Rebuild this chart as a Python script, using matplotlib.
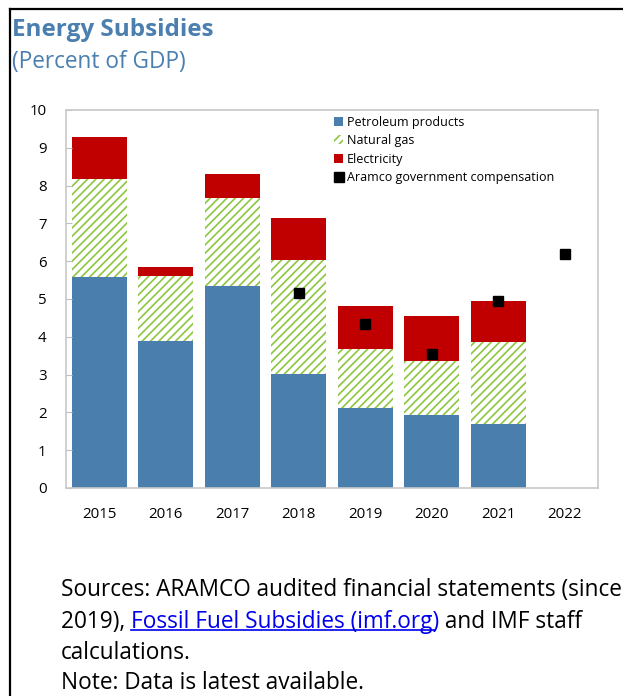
import numpy as np
import matplotlib
matplotlib.use("Agg")
import matplotlib.pyplot as plt
from matplotlib.lines import Line2D

#===============================================================================
# Data
#===============================================================================
years = ["2015", "2016", "2017", "2018", "2019", "2020", "2021", "2022"]
petroleum = [5.58, 3.89, 5.35, 3.02, 2.12, 1.92, 1.70, 0.0]
natural_gas = [2.60, 1.73, 2.33, 3.02, 1.55, 1.44, 2.17, 0.0]
electricity = [1.11, 0.23, 0.63, 1.09, 1.14, 1.19, 1.08, 0.0]
aramco = [np.nan, np.nan, np.nan, 5.15, 4.34, 3.54, 4.95, 6.19]

BLUE = "#4a7fad"
GREEN = "#8dc63f"
RED = "#c00000"
TITLE = "#4a7fb0"

plt.rcParams["font.family"] = ["Open Sans", "DejaVu Sans"]
plt.rcParams["hatch.linewidth"] = 1.2

#===============================================================================
# Plot
#===============================================================================
fig = plt.figure(figsize=(6.23, 6.96), dpi=100)
ax = fig.add_axes([0.106, 0.299, 0.854, 0.543])

x = np.arange(len(years))
w = 0.83
pet = np.array(petroleum)
gas = np.array(natural_gas)
ele = np.array(electricity)

ax.bar(x, pet, w, color=BLUE, linewidth=0, label="Petroleum products")
ax.bar(x, gas, w, bottom=pet, facecolor="white", edgecolor=GREEN,
       hatch="////", linewidth=0, label="Natural gas")
ax.bar(x, ele, w, bottom=pet + gas, color=RED, linewidth=0, label="Electricity")
ax.plot(x, aramco, linestyle="none", marker="s", markersize=7, color="black",
        label="Aramco government compensation")

ax.set_xlim(-0.5, len(years) - 0.5)
ax.set_ylim(0, 10)
ax.set_yticks(range(0, 11))
ax.set_xticks(x)
ax.set_xticklabels(years)
ax.tick_params(axis="y", direction="in", length=4, color="#bfbfbf",
               labelsize=10.8, pad=14)
ax.tick_params(axis="x", length=0, labelsize=10.8, pad=14)
for s in ax.spines.values():
    s.set_color("#c8c8c8")
    s.set_linewidth(1.2)

handles, labels = ax.get_legend_handles_labels()
order = [1, 2, 3, 0]
leg = ax.legend([handles[i] for i in order], [labels[i] for i in order],
                loc="upper left", bbox_to_anchor=(0.49, 1.005), frameon=False,
                fontsize=9, handlelength=0.7, handletextpad=0.3,
                labelspacing=0.45, borderaxespad=0.2)

# titles
fig.text(12 / 623, 1 - 30 / 696, "Energy Subsidies", color=TITLE,
         fontsize=17.5, fontweight="bold", va="center", ha="left")
fig.text(12 / 623, 1 - 62 / 696, "(Percent of GDP)", color=TITLE,
         fontsize=16.3, va="center", ha="left")

# frame lines at top and left
fig.add_artist(Line2D([10 / 623, 1.0], [1 - 9 / 696] * 2, color="black",
                      linewidth=1.6, transform=fig.transFigure))
fig.add_artist(Line2D([10 / 623] * 2, [0.0, 1 - 9 / 696], color="black",
                      linewidth=1.6, transform=fig.transFigure))

# sources and note
fs = 16.3
x0 = 61 / 623
fig.text(x0, 1 - 590 / 696, "Sources: ARAMCO audited financial statements (since",
         fontsize=fs, va="center")
t1 = fig.text(x0, 1 - 622 / 696, "2019), ", fontsize=fs, va="center")
link = fig.text(x0, 1 - 622 / 696, "Fossil Fuel Subsidies (imf.org)",
                fontsize=fs, va="center", color="#0000ee")
t3 = fig.text(x0, 1 - 622 / 696, " and IMF staff", fontsize=fs, va="center")
fig.text(x0, 1 - 653 / 696, "calculations.", fontsize=fs, va="center")
fig.text(x0, 1 - 683 / 696, "Note: Data is latest available.", fontsize=fs, va="center")

fig.canvas.draw()
r = fig.canvas.get_renderer()
inv = fig.transFigure.inverted()
b1 = t1.get_window_extent(r)
link.set_x(inv.transform((b1.x1, 0))[0])
fig.canvas.draw()
bl = link.get_window_extent(r)
t3.set_x(inv.transform((bl.x1, 0))[0])
# underline under the link
ux0, uy = inv.transform((bl.x0, bl.y0 + 4))
ux1, _ = inv.transform((bl.x1 - 4, bl.y0 + 4))
fig.add_artist(Line2D([ux0, ux1], [uy, uy], color="#0000ee", linewidth=1.2,
                      transform=fig.transFigure))

fig.savefig("out.png", dpi=100)
